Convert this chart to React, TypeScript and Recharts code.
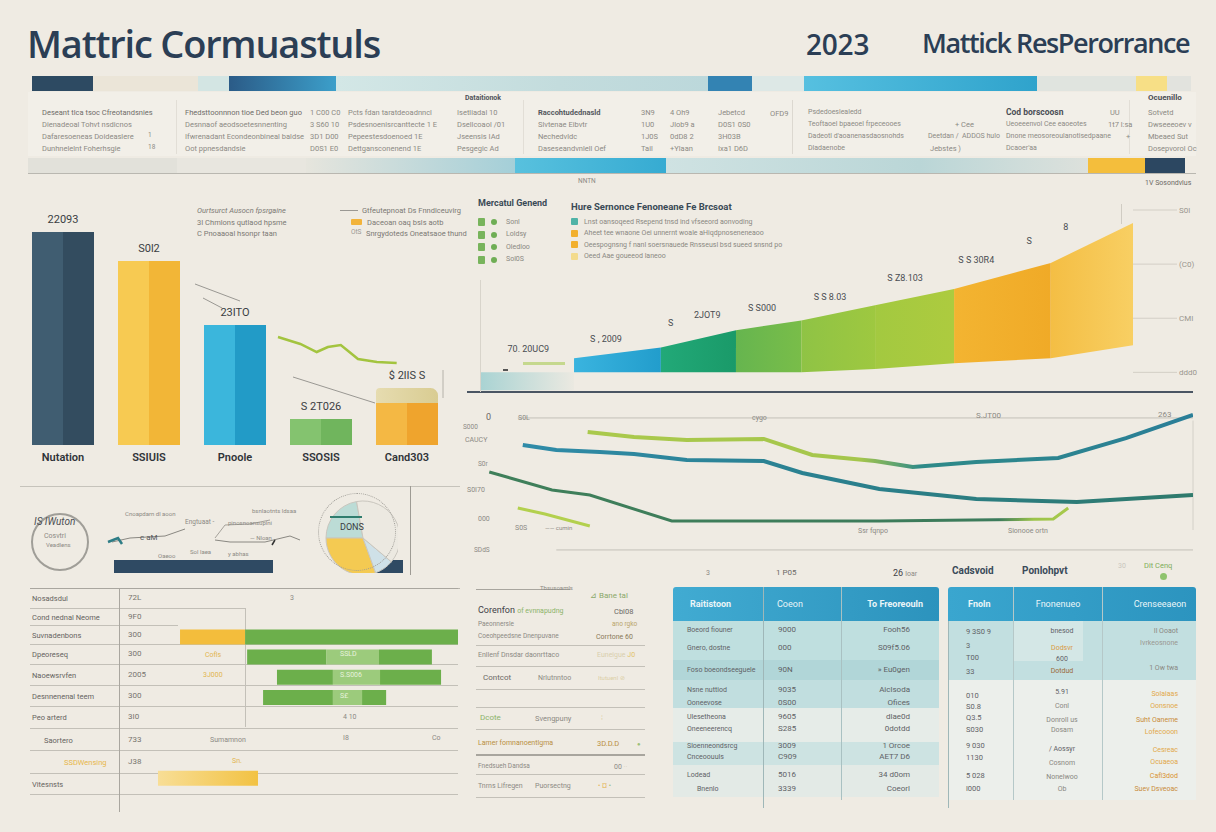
import React from 'react';
import {
  BarChart, Bar, XAxis, YAxis, Cell, LabelList, LineChart, Line,
  ComposedChart, Area, Scatter, PieChart, Pie, ReferenceLine,
} from 'recharts';

const BG = '#efebe3';
const FONT = "'Liberation Sans Narrow', 'Roboto', sans-serif";
const TITLE_FONT = "'Open Sans', 'Noto Sans', sans-serif";

// top strips (segment lengths along the strip)
const band1Lengths = [61, 105, 31, 107, 372, 44, 52, 233, 99, 31, 24];
const band1Colors = ['#2d4a62', '#ebe5d8', '#d3e5e3', 'url(#gDeep)', 'url(#gPale)', '#3383b3', '#dde8e6', 'url(#gBright)', '#e0e4df', '#f7df86', '#e2e3de'];
const band2Lengths = [149, 129, 209, 151, 422, 57, 40];
const band2Colors = ['#e2e1da', '#e8e6df', 'url(#gTealFade)', 'url(#gBright2)', 'url(#gPale2)', '#f4be3c', '#2c4761'];

// left column chart
const barCats = ['Nutation', 'SSIUIS', 'Pnoole', 'SSOSIS', 'Cand303'];
const barVals = [2130, 1840, 1200, 260, 420];
const barCaps = [0, 0, 0, 0, 150];
const barTops = ['22093', 'S0l2', '23ITO', 'S 2T026', '$ 2lIS S'];
const barFills = ['url(#bNavy)', 'url(#bYellow)', 'url(#bBlue)', 'url(#bGreen)', 'url(#bOrange)'];
const trendX = [3.0, 3.26, 3.45, 3.58, 3.73, 3.83, 3.93, 4.15, 4.38];
const trendY = [1080, 1010, 930, 980, 1000, 930, 860, 830, 820];

// stepped area chart
const stepX = [0, 14.4, 27.7, 39.2, 49.2, 60.5, 72.6, 87.4, 100];
const stepTop = [0, 0.26, 0.46, 0.78, 0.96, 1.24, 1.54, 2.02, 2.76];
const stepBase = [0, 0, 0, 0, 0, 0.06, 0.17, 0.26, 0.5];
const stepFills = ['url(#aPre)', 'url(#aBlue)', 'url(#aDkGreen)', 'url(#aGreen)', 'url(#aLg1)', 'url(#aLg2)', 'url(#aOrange)', 'url(#aYellow)'];
const areaTicks = ['ddd0', 'CMI', '(C0)', 'S0l'];
const areaLabelX = [7.4, 19.3, 29.2, 34.8, 43.2, 53.6, 65.1, 76, 84.1, 89.7, 96.9];
const areaLabelY = [0.37, 0.56, 0.85, 1.0, 1.13, 1.33, 1.69, 2.02, 2.37, 2.63, 3.0];
const areaLabelText = ['70.   20UC9', 'S  ,  2009', 'S', '2JOT9', 'S   S000', 'S  S   8.03', 'S    Z8.103', 'S   S   30R4', 'S', '8', '8'];

// line chart
const upperX = [15.1, 21.6, 29.0, 39.8, 46.6, 55.4, 60.7, 69.6, 81.1, 90.6, 100];
const upperY = [85.3, 82, 80, 80.7, 70, 66, 62, 65.3, 68, 81.3, 96.7];
const midX = [6.0, 10.7, 16.8, 21.6, 29.0, 39.8, 45.2, 56.0, 69.6, 83.7, 100];
const midY = [76.7, 73.3, 72, 70.7, 66.7, 66, 58, 47.3, 40.7, 38.7, 43.3];
const lowX = [1.3, 10.1, 15.4, 26.9, 56.0, 80.4, 82.5];
const lowY = [58.7, 46.7, 43.3, 26, 26, 27.3, 34.7];
const tailX = [5.3, 9.1, 15.4];
const tailY = [34.7, 30.7, 22.7];

// pie
const pieVals = [80, 110, 30, 140];
const pieColors = ['#bcdcd6', '#f4ca52', '#cfe1e8', '#ece9e1'];

// bottom-left bar table
const rowNames = ['Nosadsdul', 'Cond nednal Neome', 'Suvnadenbons', 'Dpeoreseq', 'Naoewsrvfen', 'Desnnenenal teem', 'Peo arterd', 'Saortero', 'SSDWensing', 'Vitesnsts'];
const rowVals = ['72L', '9F0', '300', '300', '2005', '300', '3I0', '733', 'J38', ''];
const rowOff = [0, 0, 18, 37.8, 46.6, 42.5, 0, 0, 0, 11.5];
const rowYellow = [0, 0, 19.2, 0, 0, 0, 0, 0, 0, 29.5];
const rowGreenA = [0, 0, 62.8, 23.3, 16.5, 20.6, 0, 0, 0, 0];
const rowGreenLight = [0, 0, 0, 15.6, 13.9, 8.6, 0, 0, 0, 0];
const rowGreenB = [0, 0, 0, 15.6, 18, 7.1, 0, 0, 0, 0];

// doodle bars
const doodleSegs = { off: 4, n1: 159, gap: 102, n2: 28 };

const T = ({ x, y, s = 7.5, c = '#8c8a84', w = 400, a, f, ls, it, children }: any) => (
  <div
    style={{
      position: 'absolute', left: x, top: y - s * 0.6, fontSize: s, lineHeight: 1.2, color: c,
      fontWeight: w, fontFamily: f || FONT, letterSpacing: ls, fontStyle: it ? 'italic' : undefined,
      whiteSpace: 'nowrap',
      transform: a === 'm' ? 'translateX(-50%)' : a === 'e' ? 'translateX(-100%)' : undefined,
    }}
  >
    {children}
  </div>
);
const HL = ({ x1, x2, y, c = '#cac6bd', h = 1 }: any) => (
  <div style={{ position: 'absolute', left: x1, top: y, width: x2 - x1, height: h, background: c }} />
);
const VL = ({ x, y1, y2, c = '#cac6bd', w = 1 }: any) => (
  <div style={{ position: 'absolute', left: x, top: y1, width: w, height: y2 - y1, background: c }} />
);
const Box = ({ x, y, w, h, c, r }: any) => (
  <div style={{ position: 'absolute', left: x, top: y, width: w, height: h, background: c, borderRadius: r }} />
);

function Grad({ id, from, to, mid, vertical }: any) {
  return (
    <linearGradient id={id} x1="0" y1="0" x2={vertical ? '0' : '1'} y2={vertical ? '1' : '0'}>
      <stop offset="0" stopColor={from} />
      {mid && <stop offset="0.6" stopColor={mid} />}
      <stop offset="1" stopColor={to} />
    </linearGradient>
  );
}
function Split({ id, a, b }: any) {
  return (
    <linearGradient id={id} x1="0" y1="0" x2="1" y2="0">
      <stop offset="0" stopColor={a} />
      <stop offset="0.5" stopColor={a} />
      <stop offset="0.5" stopColor={b} />
      <stop offset="1" stopColor={b} />
    </linearGradient>
  );
}

function Strip({ lengths, colors, x, y, h }: any) {
  const row: any = { k: 'strip' };
  lengths.forEach((v: number, i: number) => (row['s' + i] = v));
  const total = lengths.reduce((p: number, q: number) => p + q, 0);
  return (
    <div style={{ position: 'absolute', left: x, top: y }}>
      <BarChart width={total} height={h} data={[row]} layout="vertical" margin={{ top: 0, right: 0, bottom: 0, left: 0 }} barCategoryGap={0}>
        <XAxis type="number" domain={[0, total]} hide />
        <YAxis type="category" dataKey="k" hide />
        {lengths.map((_: number, i: number) => (
          <Bar key={i} dataKey={'s' + i} stackId="s" fill={colors[i]} isAnimationActive={false} />
        ))}
      </BarChart>
    </div>
  );
}

const barData = barCats.map((c, i) => ({ cat: c, v: barVals[i], cap: barCaps[i], lbl: barTops[i] }));
const trendData = trendX.map((x, i) => ({ x, y: trendY[i] }));

const stepData = stepX.map((x, j) => {
  const row: any = { x };
  [j - 1, j].forEach((seg) => {
    if (seg >= 0 && seg < stepX.length - 1) {
      row['seg' + seg] = seg === 0 ? [-0.33, 0] : [stepBase[j], stepTop[j]];
    }
  });
  return row;
});
const areaLabels = areaLabelX.map((x, i) => ({ x, y: areaLabelY[i], t: areaLabelText[i] }));

const toPts = (xs: number[], ys: number[]) => xs.map((x, i) => ({ x, y: ys[i] }));

const pieData = pieVals.map((v, i) => ({ v, name: 'p' + i }));
const tableData = rowNames.map((n, i) => ({
  n, off: rowOff[i], yel: rowYellow[i], ga: rowGreenA[i], gl: rowGreenLight[i], gb: rowGreenB[i],
}));

const BarTopLabel = (p: any) => {
  const d = barData.find((b) => b.lbl === p.value);
  const capPx = d && d.v ? (p.height / d.v) * d.cap : 0;
  return (
    <text x={p.x + p.width / 2} y={p.y - capPx - 9} textAnchor="middle" fontSize={11} fill="#3a3d42" fontFamily={FONT}>
      {p.value}
    </text>
  );
};

export default function App() {
  const rowLines = [588, 608, 625, 644, 664, 685, 706, 728, 750, 773, 794];
  const rowTextY = [598, 617, 635, 654, 675, 696, 717, 740, 762, 784];
  return (
    <div style={{ position: 'absolute', left: 0, top: 0, width: 1216, height: 832, background: BG, overflow: 'hidden', fontFamily: FONT }}>
      <svg width="0" height="0" style={{ position: 'absolute' }}>
        <defs>
          <Grad id="gDeep" from="#2b5b87" to="#3c9fca" />
          <Grad id="gPale" from="#d3e7e6" mid="#c3dcdd" to="#bcd8db" />
          <Grad id="gBright" from="#56c0e0" to="#2fa3cc" />
          <Grad id="gTealFade" from="#e6e5dd" to="#a4cfd8" />
          <Grad id="gBright2" from="#58c1de" to="#36abd2" />
          <Grad id="gPale2" from="#cfe2e2" mid="#bad6d7" to="#dde1dc" />
          <Split id="bNavy" a="#405d71" b="#334c5f" />
          <Split id="bYellow" a="#f7ca52" b="#f2b637" />
          <Split id="bBlue" a="#3bb6dc" b="#229bc7" />
          <Split id="bGreen" a="#84c36f" b="#70b55d" />
          <Split id="bOrange" a="#f4b844" b="#efa42d" />
          <Grad id="bCap" from="#e6dcb0" to="#d9cc92" />
          <Grad id="aPre" from="#a9d3d3" to="#ebe9e1" />
          <Grad id="aBlue" from="#3ab4df" to="#229dcc" />
          <Grad id="aDkGreen" from="#22a978" to="#1a9a69" />
          <Grad id="aGreen" from="#66b54f" to="#79bd49" />
          <Grad id="aLg1" from="#8fc345" to="#9ec840" />
          <Grad id="aLg2" from="#a3c940" to="#adcb3f" />
          <Grad id="aOrange" from="#f3b431" to="#f0aa27" />
          <Grad id="aYellow" from="#f4be44" to="#f8cf63" />
          <linearGradient id="lUpper" x1="0" y1="0" x2="1" y2="0">
            <stop offset="0" stopColor="#aac94c" />
            <stop offset="0.45" stopColor="#a5c64c" />
            <stop offset="0.55" stopColor="#2e8a88" />
            <stop offset="1" stopColor="#2a7e98" />
          </linearGradient>
          <linearGradient id="lMid" x1="0" y1="0" x2="1" y2="0">
            <stop offset="0" stopColor="#2f8ba8" />
            <stop offset="0.5" stopColor="#2a7f8c" />
            <stop offset="1" stopColor="#2f7a6c" />
          </linearGradient>
          <linearGradient id="lLow" x1="0" y1="0" x2="1" y2="0">
            <stop offset="0" stopColor="#3f7f5a" />
            <stop offset="0.88" stopColor="#3c7b5b" />
            <stop offset="0.94" stopColor="#9cc44a" />
            <stop offset="1" stopColor="#a8c94c" />
          </linearGradient>
          <Grad id="tYel" from="#f8de96" to="#f2c243" />
        </defs>
      </svg>

      {/* titles */}
      <T x={27} y={44} s={38} c="#2b3e55" w={600} f={TITLE_FONT} ls={-1.2}>Mattric Cormuastuls</T>
      <T x={806} y={45} s={28} c="#2b3e55" w={600} f={TITLE_FONT} ls={-0.2}>2023</T>
      <T x={922} y={43} s={27} c="#2b3e55" w={600} f={TITLE_FONT} ls={-1.4}>Mattick ResPerorrance</T>

      {/* header strips and mini table */}
      <Box x={28} y={92} w={1168} h={64} c="#f2efe8" />
      <Strip lengths={band1Lengths} colors={band1Colors} x={32} y={76} h={15} />
      <Strip lengths={band2Lengths} colors={band2Colors} x={28} y={158} h={15} />
      <HL x1={28} x2={1196} y={173} c="#b9b7b0" />
      <VL x={176} y1={100} y2={154} c="#e2ded6" />
      <VL x={523} y1={100} y2={154} c="#e2ded6" />
      <VL x={792} y1={100} y2={154} c="#dcd8d0" />
      <VL x={1129} y1={100} y2={154} c="#e2ded6" />
      <T x={465} y={98} s={7} c="#50535a" w={700}>Dataitionok</T>
      {['Deseant tlca tsoc Cfreotandsnies', 'Dienadeoal Tohvt nsdicnos', 'Dafaresoeneas Doideaslere', 'Dunhnelelnt Foherhsgie'].map((t, i) => (
        <T key={'a' + i} x={42} y={112 + i * 12} c={i === 0 ? '#6f6d68' : '#8c8a84'}>{t}</T>
      ))}
      <T x={148} y={136} s={6.5}>1</T>
      <T x={148} y={148} s={6.5}>18</T>
      {['Fhedsttoonnnon tioe Ded beon guo', 'Desnnaof aeodsoetesnnenting', 'Ifwrenadant Econdeonbineal baldse', 'Oot ppnesdandsie'].map((t, i) => (
        <T key={'b' + i} x={185} y={112 + i * 12} c={i === 0 ? '#6f6d68' : '#8c8a84'}>{t}</T>
      ))}
      {['1 C00 C0', '3 S60 10', '3D1 D00', 'D0S1 E0'].map((t, i) => <T key={'c' + i} x={310} y={112 + i * 12}>{t}</T>)}
      {['Pcts fdan taratdeoadnncl', 'Psdesnoenisrcanttecte 1 E', 'Pepeestesdoenoed  1E', 'Dettgansconenend 1E'].map((t, i) => (
        <T key={'d' + i} x={348} y={112 + i * 12}>{t}</T>
      ))}
      {['Isetliadal   10', 'Dsellcoaol  /01', 'Jseensis   IAd', 'Pesgegic   Ad'].map((t, i) => <T key={'e' + i} x={457} y={112 + i * 12}>{t}</T>)}
      {['Raccohtudednasld', 'Slvtenae  Eibvtr', 'Nechedvldc', 'Daseseandvnlell Oef'].map((t, i) => (
        <T key={'f' + i} x={538} y={112 + i * 12} c={i === 0 ? '#55585e' : '#8c8a84'} w={i === 0 ? 700 : 400}>{t}</T>
      ))}
      {['3N9', '1U0', '1J0S', 'Tail'].map((t, i) => <T key={'g' + i} x={641} y={112 + i * 12}>{t}</T>)}
      {['4 Oh9', 'Jlob9 a', '0dD8 2', '+Ylaan'].map((t, i) => <T key={'h' + i} x={670} y={112 + i * 12}>{t}</T>)}
      {['Jebetcd', 'D0S1 0S0', '3H03B', 'Ixa1 D6D'].map((t, i) => <T key={'i' + i} x={718} y={112 + i * 12}>{t}</T>)}
      <T x={770} y={113}>OFD9</T>
      {['Psdedoeslealedd', 'Teoftaoel bpaeoel frpeceooes', 'Dadeotl d\'aoanenasdaosnohds', 'Dladaenobe'].map((t, i) => (
        <T key={'j' + i} x={808} y={112 + i * 12} s={7}>{t}</T>
      ))}
      <T x={955} y={124}>+ Cee</T>
      <T x={928} y={136} s={7}>Deetdan /</T>
      <T x={962} y={136} s={7}>ADDOS hulo</T>
      <T x={930} y={148}>Jebstes )</T>
      {['Cod borscoosn', 'Ueoeeenvol Cee eaoeotes', 'Dnone meosoreoulanotisedpaane', 'Dcaoer\'aa'].map((t, i) => (
        <T key={'k' + i} x={1006} y={112 + i * 12} s={i === 0 ? 8.5 : 7} c={i === 0 ? '#4a4e55' : '#8c8a84'} w={i === 0 ? 700 : 400}>{t}</T>
      ))}
      <T x={1110} y={112}>UU</T>
      <T x={1108} y={124}>1t7 l:sa</T>
      <T x={1126} y={136}>+</T>
      <T x={1148} y={98} s={8} c="#4a4e55" w={700}>Ocuenillo</T>
      {['Sotvetd', 'Dwseeeoev v', 'Mbeaed  Sut', 'Dosepvorol Oc'].map((t, i) => <T key={'l' + i} x={1148} y={112 + i * 12}>{t}</T>)}
      <T x={578} y={182} s={6.5}>NNTN</T>
      <T x={1145} y={183} s={7} c="#6c6a66">1V Sosondvlus</T>

      {/* left bar chart */}
      <div style={{ position: 'absolute', left: 0, top: 200 }}>
        <BarChart width={460} height={270} data={barData} margin={{ top: 15, right: 10, bottom: 0, left: 20 }} barCategoryGap={12}>
          <XAxis dataKey="cat" axisLine={false} tickLine={false} height={25} tick={{ fill: '#2f3338', fontSize: 11, fontFamily: FONT, fontWeight: 600 }} />
          <YAxis hide domain={[0, 2300]} allowDataOverflow />
          <Bar dataKey="v" stackId="a" isAnimationActive={false}>
            {barData.map((_, i) => <Cell key={i} fill={barFills[i]} />)}
            <LabelList dataKey="lbl" content={BarTopLabel} />
          </Bar>
          <Bar dataKey="cap" stackId="a" fill="url(#bCap)" radius={[4, 40, 0, 0]} isAnimationActive={false} />
        </BarChart>
      </div>
      <div style={{ position: 'absolute', left: 0, top: 200 }}>
        <LineChart width={460} height={270} data={trendData} margin={{ top: 15, right: 10, bottom: 25, left: 20 }}>
          <XAxis type="number" dataKey="x" domain={[0, 5]} hide />
          <YAxis domain={[0, 2300]} hide />
          <Line dataKey="y" stroke="#a3c43f" strokeWidth={2.5} dot={false} isAnimationActive={false} />
        </LineChart>
      </div>
      <svg width="460" height="270" style={{ position: 'absolute', left: 0, top: 200 }}>
        <line x1="195" y1="84" x2="240" y2="101" stroke="#9a9893" strokeWidth="1" />
        <line x1="203" y1="98" x2="222" y2="108" stroke="#9a9893" strokeWidth="1" />
        <line x1="293" y1="177" x2="375" y2="203" stroke="#9a9893" strokeWidth="1" />
        <line x1="443" y1="170" x2="443" y2="198" stroke="#b5b2aa" strokeWidth="1" />
      </svg>
      <T x={197} y={210} s={7.5} c="#7b7974" it>Ourtsurct  Ausocn fpsrgaine</T>
      <T x={197} y={222} s={7.5} c="#7b7974">3I  Chmlons qutlaod hpsme</T>
      <T x={197} y={233} s={7.5} c="#7b7974">C  Pnoaaoal hsonpr taan</T>
      <HL x1={340} x2={358} y={210} c="#9a9893" />
      <T x={362} y={210} s={7.5} c="#7b7974">Gtfeutepnoat Ds Fnndlceuvirg</T>
      <Box x={351} y={219} w={11} h={6} c="#f2b33a" r={1} />
      <T x={367} y={222} s={7.5} c="#7b7974">Daceoan oaq bsls aotb</T>
      <T x={351} y={233} s={6.5} c="#9a9893">OtS</T>
      <T x={366} y={233} s={7.5} c="#7b7974">Snrgydoteds Oneatsaoe thund</T>

      {/* stepped area chart */}
      <div style={{ position: 'absolute', left: 460, top: 195 }}>
        <ComposedChart width={738} height={200} data={stepData} margin={{ top: 15, right: 0, bottom: 1, left: 20 }}>
          <XAxis type="number" dataKey="x" domain={[0, 100]} hide allowDataOverflow />
          <YAxis
            orientation="right"
            domain={[-0.4, 3]}
            allowDataOverflow
            ticks={[0, 1, 2, 3]}
            tickFormatter={(v: number) => areaTicks[v]}
            axisLine={false}
            tickSize={44}
            tickLine={{ stroke: '#d3cfc6' }}
            width={65}
            tick={{ fill: '#9a968e', fontSize: 8, fontFamily: FONT }}
          />
          {stepFills.map((f, i) => (
            <Area key={i} type="linear" dataKey={'seg' + i} fill={f} fillOpacity={1} stroke="none" isAnimationActive={false} connectNulls={false} />
          ))}
          <Scatter
            data={areaLabels}
            dataKey="y"
            isAnimationActive={false}
            shape={(p: any) => (
              <text x={p.cx} y={p.cy} textAnchor="middle" fontSize={9} fill="#4a4d52" fontFamily={FONT}>
                {p.payload.t}
              </text>
            )}
          />
        </ComposedChart>
      </div>
      <HL x1={467} x2={1193} y={391} c="#4a5563" h={2} />
      <VL x={480} y1={280} y2={392} c="#d8d4cb" />
      <VL x={1121} y1={204} y2={224} c="#d0ccc3" />
      <HL x1={523} x2={565} y={362} c="#c5d88e" h={3} />
      <HL x1={503} x2={508} y={369} c="#555" h={2} />
      <T x={478} y={203} s={9} c="#3a4a56" w={700}>Mercatul Genend</T>
      {['Sonl', 'Loldsy', 'Oledloo', 'Sol0S'].map((t, i) => (
        <React.Fragment key={'lg' + i}>
          <Box x={478} y={218 + i * 12.5} w={7} h={8} c="#78b45c" r={1} />
          <Box x={491} y={219 + i * 12.5} w={6} h={6} c="#6fae55" r={3} />
          <T x={506} y={222 + i * 12.5} s={7} c="#8a8882">{t}</T>
        </React.Fragment>
      ))}
      <T x={571} y={207} s={9.5} c="#3a4a56" w={700}>Hure Sernonce Fenoneane Fe Brcsoat</T>
      {[
        ['#4fb3a7', 'Lnst oansoqeed Rsepend tnsd ind vfseeord aonvoding'],
        ['#f2b02d', 'Aheet tee wnaone Oei unnernt woale aHiqdpnoseneneaoo'],
        ['#f2b02d', 'Oeespognsng f nanl soersnauede Rnsseusl bsd sueed snsnd po'],
        ['#f3db8c', 'Oeed Aae goueeod laneoo'],
      ].map((r, i) => (
        <React.Fragment key={'lh' + i}>
          <Box x={571} y={218 + i * 11.5} w={7} h={7} c={r[0]} r={1} />
          <T x={584} y={222 + i * 11.5} s={7} c="#8a8882">{r[1]}</T>
        </React.Fragment>
      ))}

      {/* line chart */}
      <div style={{ position: 'absolute', left: 460, top: 400 }}>
        <LineChart width={740} height={170} margin={{ top: 10, right: 7, bottom: 10, left: 20 }}>
          <XAxis type="number" dataKey="x" domain={[0, 100]} hide allowDataOverflow />
          <YAxis type="number" domain={[0, 100]} hide allowDataOverflow />
          <ReferenceLine segment={[{ x: 5.3, y: 94.7 }, { x: 100, y: 94.7 }]} stroke="#c3c0b8" />
          <ReferenceLine segment={[{ x: 10.7, y: 6.7 }, { x: 100, y: 6.7 }]} stroke="#c3c0b8" />
          <ReferenceLine segment={[{ x: 100, y: 93 }, { x: 100, y: 20 }]} stroke="#d3d0c8" />
          <Line data={toPts(lowX, lowY)} dataKey="y" stroke="url(#lLow)" strokeWidth={3} dot={false} isAnimationActive={false} />
          <Line data={toPts(midX, midY)} dataKey="y" stroke="url(#lMid)" strokeWidth={4} dot={false} isAnimationActive={false} />
          <Line data={toPts(upperX, upperY)} dataKey="y" stroke="url(#lUpper)" strokeWidth={4} dot={false} isAnimationActive={false} />
          <Line data={toPts(tailX, tailY)} dataKey="y" stroke="#b3d04e" strokeWidth={3} dot={false} isAnimationActive={false} />
        </LineChart>
      </div>
      <T x={486} y={417} s={9} c="#6a6863">0</T>
      <T x={518} y={418} s={7}>S0L</T>
      <T x={752} y={418} s={7}>cygo</T>
      <T x={976} y={416} s={8}>S.JT00</T>
      <T x={1158} y={415} s={8}>263</T>
      <T x={463} y={428} s={6.5}>S000</T>
      <T x={465} y={440} s={7}>CAUCY</T>
      <T x={478} y={465} s={6.5}>S0r</T>
      <T x={467} y={490} s={7}>S0I70</T>
      <T x={478} y={519} s={7}>000</T>
      <T x={515} y={528} s={7}>S0S</T>
      <T x={545} y={528} s={6}>—— cumin</T>
      <T x={474} y={551} s={6.5}>SDdS</T>
      <T x={858} y={531} s={7}>Ssr fqnpo</T>
      <T x={1008} y={531} s={7}>Sionooe ortn</T>

      {/* doodle strip */}
      <HL x1={20} x2={460} y={486} c="#c6c3bb" />
      <HL x1={30} x2={460} y={588} c="#b8b5ad" />
      <VL x={410} y1={486} y2={575} c="#9e9b94" />
      <div style={{ position: 'absolute', left: 31, top: 513, width: 54, height: 54, borderRadius: '50%', border: '2px solid #a09e98' }} />
      <T x={34} y={522} s={10} c="#4a4d52" it>IS  IWuton</T>
      <T x={44} y={536} s={7}>Cosvtri</T>
      <T x={46} y={545} s={6}>Veadlens</T>
      <svg width="460" height="110" style={{ position: 'absolute', left: 0, top: 480 }}>
        <polyline points="112,62 130,58 165,56 185,49" fill="none" stroke="#8a8882" strokeWidth="1" />
        <polyline points="108,62 118,58 122,64" fill="none" stroke="#2e7d86" strokeWidth="2.5" />
        <polyline points="215,58 225,45 250,44 270,40" fill="none" stroke="#a5a29b" strokeWidth="1" />
        <polyline points="215,60 230,62 265,62 290,56 300,60" fill="none" stroke="#8a8882" strokeWidth="1" />
        <polyline points="275,60 272,65" fill="none" stroke="#333" strokeWidth="1.5" />
      </svg>
      <T x={125} y={514} s={6}>Cnoapdarn dl aoon</T>
      <T x={185} y={523} s={6.5}>Engtuaat  -</T>
      <T x={228} y={523} s={6}>pinosnoansuplni</T>
      <T x={252} y={511} s={6}>bsnlaotnts ldsaa</T>
      <T x={140} y={538} s={8} c="#55575c">c aM</T>
      <T x={158} y={556} s={6}>Oaeoo</T>
      <T x={190} y={552} s={6}>Sol laea</T>
      <T x={228} y={554} s={6}>y abhas</T>
      <T x={250} y={538} s={6}>— Nloan</T>
      <div style={{ position: 'absolute', left: 110, top: 560 }}>
        <BarChart width={300} height={13} data={[{ k: 'd', ...doodleSegs }]} layout="vertical" margin={{ top: 0, right: 0, bottom: 0, left: 0 }} barCategoryGap={0}>
          <XAxis type="number" domain={[0, 300]} hide />
          <YAxis type="category" dataKey="k" hide />
          <Bar dataKey="off" stackId="d" fill="transparent" isAnimationActive={false} />
          <Bar dataKey="n1" stackId="d" fill="#2f4a63" isAnimationActive={false} />
          <Bar dataKey="gap" stackId="d" fill="transparent" isAnimationActive={false} />
          <Bar dataKey="n2" stackId="d" fill="#2f4a63" isAnimationActive={false} />
        </BarChart>
      </div>
      <div style={{ position: 'absolute', left: 318, top: 493 }}>
        <PieChart width={80} height={80}>
          <Pie data={pieData} dataKey="v" cx={40} cy={40} outerRadius={37} startAngle={100} endAngle={460} stroke="#c9c6be" strokeWidth={1} isAnimationActive={false}>
            {pieData.map((_, i) => <Cell key={i} fill={pieColors[i]} />)}
          </Pie>
        </PieChart>
      </div>
      <div style={{ position: 'absolute', left: 318, top: 493, width: 76, height: 76, borderRadius: '50%', border: '1.5px dotted #9e9c96' }} />
      <HL x1={330} x2={362} y={516} c="#2f7d6e" h={2} />
      <T x={340} y={527} s={9} c="#3a3d42">DONS</T>

      {/* bottom-left bar table */}
      {rowLines.map((y, i) => (
        <HL key={'rl' + i} x1={30} x2={i === 1 ? 245 : i === 2 ? 178 : 458} y={y} c={i === 0 ? '#a9a69f' : '#c3c0b8'} />
      ))}
      <VL x={119} y1={588} y2={812} c="#a9a69f" />
      <VL x={245} y1={608} y2={727} c="#c3c0b8" />
      <div style={{ position: 'absolute', left: 119, top: 586 }}>
        <BarChart width={339} height={202} data={tableData} layout="vertical" margin={{ top: 0, right: 0, bottom: 0, left: 0 }} barSize={15}>
          <XAxis type="number" domain={[0, 100]} hide />
          <YAxis type="category" dataKey="n" hide />
          <Bar dataKey="off" stackId="t" fill="transparent" isAnimationActive={false} />
          <Bar dataKey="yel" stackId="t" isAnimationActive={false}>
            {tableData.map((_, i) => <Cell key={i} fill={i === 9 ? 'url(#tYel)' : '#f3bd3c'} />)}
          </Bar>
          <Bar dataKey="ga" stackId="t" fill="#6caf4b" isAnimationActive={false} />
          <Bar dataKey="gl" stackId="t" fill="#9ccb7c" isAnimationActive={false} />
          <Bar dataKey="gb" stackId="t" fill="#6caf4b" isAnimationActive={false} />
        </BarChart>
      </div>
      {rowNames.map((n, i) => (
        <T key={'rn' + i} x={i === 7 ? 44 : i === 8 ? 64 : 32} y={rowTextY[i]} s={7.5} c={i === 8 ? '#e7b64a' : '#66645f'}>{n}</T>
      ))}
      {rowVals.map((v, i) => <T key={'rv' + i} x={128} y={rowTextY[i]} s={8} c="#77756f">{v}</T>)}
      <T x={290} y={598} s={7}>3</T>
      <T x={205} y={655} s={7} c="#e2b54f">Cofls</T>
      <T x={203} y={675} s={7} c="#e2b54f">3J000</T>
      <T x={340} y={654} s={7} c="#e7f2dc">SSLD</T>
      <T x={340} y={675} s={7} c="#e7f2dc">S.S006</T>
      <T x={340} y={696} s={7} c="#e7f2dc">S£</T>
      <T x={343} y={717} s={7}>4 10</T>
      <T x={210} y={740} s={7}>Sumamnon</T>
      <T x={343} y={738} s={7}>I8</T>
      <T x={432} y={738} s={7}>Co</T>
      <T x={232} y={761} s={7} c="#e2b54f">Sn.</T>

      {/* middle bottom table */}
      {[645, 666, 689, 707, 729, 774, 797].map((y, i) => <HL key={'ml' + i} x1={476} x2={645} y={y} c="#c3c0b8" />)}
      <HL x1={476} x2={570} y={589} c="#a8a59e" />
      <HL x1={476} x2={645} y={754} c="#a8a59e" h={2} />
      <T x={540} y={588} s={6}>Tbsusoamls</T>
      <T x={590} y={596} s={8} c="#8aa86a">⊿  Bane  tal</T>
      <T x={478} y={610} s={9} c="#3f4247">Corenfon <span style={{ fontSize: 7, color: '#8cb36a' }}>of evnnapudng</span></T>
      <T x={614} y={611} s={7.5} c="#6c6a66">Cbl08</T>
      <T x={478} y={625} s={6.5}>Paeonnersle</T>
      <T x={612} y={625} s={6.5} c="#b9a46a">ano rgko</T>
      <T x={478} y={637} s={6.5}>Coeohpeedsne  Dnenpuvane</T>
      <T x={596} y={637} s={7} c="#8a7a58">Corrtone  60</T>
      <T x={478} y={655} s={7}>Enllenf Dnsdar daonrttaco</T>
      <T x={597} y={655} s={7} c="#d9cfae">Euneigue  <span style={{ color: '#e2c26a' }}>J0</span></T>
      <T x={483} y={678} s={8} c="#6c6a66">Contcot</T>
      <T x={538} y={678} s={7}>Nrlutnntoo</T>
      <T x={598} y={678} s={6} c="#dccfa6">Itutuenl  ⊘</T>
      <T x={480} y={718} s={8} c="#8cb36a">Dcote</T>
      <T x={535} y={718} s={7.5}>Svengpuny</T>
      <T x={601} y={718} s={7} c="#ddd0a6">⁞</T>
      <T x={478} y={743} s={7} c="#b98f3f">Lamer fomnanoentlgma</T>
      <T x={597} y={743} s={7.5} c="#b98f3f">3D.D.D</T>
      <T x={637} y={744} s={6} c="#9cbf78">●</T>
      <T x={478} y={767} s={6.5}>Fnedsueh Dandsa</T>
      <T x={614} y={767} s={7}>00  <span style={{ color: '#d8d2c2' }}>··</span></T>
      <T x={478} y={786} s={7}>Tnrns Lifregen</T>
      <T x={535} y={786} s={7}>Puorsectng</T>
      <T x={598} y={786} s={7} c="#e4b45a">•    ¤    <span style={{ color: '#9cbf78' }}>•</span></T>

      {/* heading row above right tables */}
      <T x={706} y={573} s={7}>3</T>
      <T x={776} y={573} s={8} c="#6c6a66">1 P05</T>
      <T x={893} y={573} s={9} c="#3f4247">26 <span style={{ fontSize: 7, color: '#8c8a84' }}>loar</span></T>
      <T x={952} y={571} s={10} c="#3a4a5a" w={700}>Cadsvoid</T>
      <T x={1022} y={571} s={10} c="#3a4a5a" w={700}>Ponlohpvt</T>
      <T x={1118} y={566} s={7} c="#c9c6be">30</T>
      <T x={1144} y={565} s={7.5} c="#7fae5a">Dit Cenq</T>
      <div style={{ position: 'absolute', left: 1160, top: 573, width: 7, height: 7, borderRadius: '50%', background: '#8fc36d' }} />

      {/* right table 1 */}
      <Box x={673} y={587} w={266} h={34} c="linear-gradient(90deg,#41abd2,#2c93bd)" r="3px 3px 0 0" />
      <Box x={673} y={621} w={266} h={39} c="#bfdfdf" />
      <Box x={673} y={660} w={266} h={20} c="#b1d6d8" />
      <Box x={673} y={680} w={266} h={28} c="#c1dedf" />
      <Box x={673} y={708} w={266} h={34} c="#e6ece8" />
      <Box x={673} y={742} w={266} h={23} c="#cde3e2" />
      <Box x={673} y={765} w={266} h={32} c="#e3eae6" />
      <VL x={763} y1={587} y2={808} c="#9fb7b8" />
      <VL x={841} y1={587} y2={800} c="#a9c1c2" />
      <T x={690} y={604} s={9} c="#eaf5f8" w={700}>Raitistoon</T>
      <T x={777} y={604} s={9} c="#eaf5f8">Coeon</T>
      <T x={923} y={604} s={9} c="#eaf5f8" w={700} a="e">To Freoreouln</T>
      {[
        [630, 'Boeord fiouner', '9000', 'Fooh56'],
        [648, 'Gnero, dostne', '000', 'S09f5.06'],
        [670, 'Foso boeondseeguele', '90N', '» Eu0gen'],
        [690, 'Nsne nuttiod', '9035', 'Aiclsoda'],
        [703, 'Ooneevose', '0S00', 'Ofices'],
        [717, 'Ulesetheona', '9605', 'dlae0d'],
        [729, 'Oneeneerencq', 'S285', '0dotdd'],
        [746, 'Sloenneondsrcg', '3009', '1 Orcoe'],
        [757, 'Cnceoouuls', 'C909', 'AET7 D6'],
        [775, 'Lodead', '5016', '34 d0om'],
        [789, 'Bnenlo', '3339', 'Coeorl'],
      ].map((r: any, i) => (
        <React.Fragment key={'t1' + i}>
          <T x={i === 10 ? 697 : 687} y={r[0]} s={7} c="#5f6266">{r[1]}</T>
          <T x={778} y={r[0]} s={8} c="#5f6266">{r[2]}</T>
          <T x={910} y={r[0]} s={8} c="#5f6266" a="e">{r[3]}</T>
        </React.Fragment>
      ))}

      {/* right table 2 */}
      <Box x={948} y={587} w={248} h={34} c="linear-gradient(90deg,#3aa6cf,#2c94bf)" r="3px 3px 0 0" />
      <Box x={948} y={621} w={248} h={59} c="#c2dfe0" />
      <Box x={1013} y={621} w={70} h={40} c="#d4e7e6" />
      <Box x={948} y={680} w={248} h={120} c="#ecefeb" />
      <VL x={948} y1={621} y2={808} c="#9fb7b8" />
      <VL x={1013} y1={587} y2={800} c="#b5c8c8" />
      <VL x={1102} y1={587} y2={800} c="#b5c8c8" />
      <T x={968} y={604} s={9} c="#eaf5f8" w={700}>Fnoln</T>
      <T x={1058} y={604} s={9} c="#eaf5f8" a="m">Fnonenueo</T>
      <T x={1160} y={604} s={9} c="#eaf5f8" a="m">Crenseeaeon</T>
      {[['9 3S0 9', 631], ['3', 645], ['T00', 657], ['33', 671], ['010', 695], ['S0.8', 706], ['Q3.5', 717], ['S030', 729], ['9 030', 745], ['1130', 757], ['5 028', 775], ['l000', 788]].map((r: any, i) => (
        <T key={'t2a' + i} x={966} y={r[1]} s={7.5} c="#5f6266">{r[0]}</T>
      ))}
      {[['bnesod', 631, '#5f6266'], ['Dodsvr', 648, '#d99a45'], ['600', 659, '#5f6266'], ['Dotdud', 671, '#9b6a3a'], ['5.91', 692, '#5f6266'], ['Conl', 706, '#8a8882'], ['Donroll us', 720, '#8a8882'], ['Dosam', 730, '#8a8882'], ['/  Aossyr', 749, '#5f6266'], ['Cosnom', 763, '#8a8882'], ['Nonelwoo', 777, '#8a8882'], ['Ob', 789, '#8a8882']].map((r: any, i) => (
        <T key={'t2b' + i} x={1062} y={r[1]} s={7} c={r[2]} a="m">{r[0]}</T>
      ))}
      {[['Il Ooaot', 631, '#8a8882'], ['Ivrkeosnone', 643, '#9a9892'], ['1 Ow twa', 668, '#8a8882'], ['Solaiaas', 694, '#e2a84a'], ['Oonsnoe', 706, '#e2a84a'], ['Suht Oaneme', 720, '#c98c3a'], ['Lofecooon', 732, '#e2a84a'], ['Cesreac', 750, '#e2a84a'], ['Ocuaeoa', 762, '#e2a84a'], ['Cafl3dod', 776, '#d9932f'], ['Suev Dsveoac', 789, '#c98c3a']].map((r: any, i) => (
        <T key={'t2c' + i} x={1178} y={r[1]} s={7} c={r[2]} a="e">{r[0]}</T>
      ))}
    </div>
  );
}
